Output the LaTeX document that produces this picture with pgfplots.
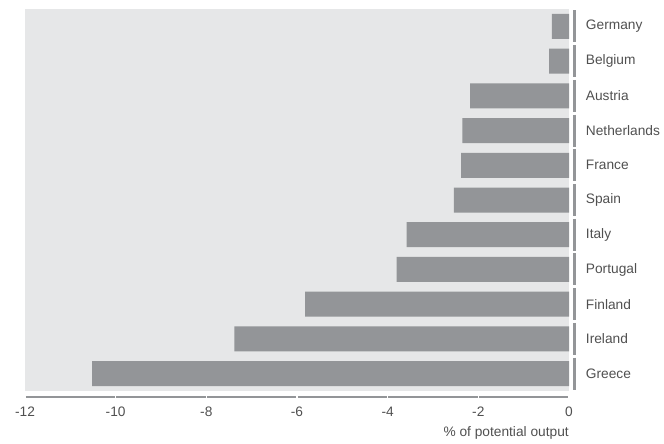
\documentclass[border=0pt]{standalone}
\usepackage{pgfplots}
\pgfplotsset{compat=1.18}
\usepackage{fontspec}
\setmainfont{Liberation Sans}
\definecolor{panel}{HTML}{E6E7E8}
\definecolor{bargray}{HTML}{939598}
\definecolor{txt}{HTML}{505050}
\begin{document}
\begin{tikzpicture}[x=0.75pt,y=0.75pt]
\path[use as bounding box] (-25,-52) rectangle (639,391);
\begin{axis}[
  at={(0,0)}, anchor=south west,
  scale only axis, width=408pt, height=286.5pt,
  xmin=-12, xmax=0, ymin=-0.5, ymax=10.5,
  y dir=reverse,
  axis background/.style={fill=panel},
  axis line style={draw=none},
  major tick length=0pt,
  xtick={-12,-10,-8,-6,-4,-2,0},
  xticklabels={-12,-10,-8,-6,-4,-2,0},
  xticklabel style={anchor=center, inner sep=0pt, yshift=-15.75pt, font=\fontsize{10.3}{12}\selectfont, text=txt},
  ytick={0,...,10},
  yticklabels={Germany,Belgium,Austria,Netherlands,France,Spain,Italy,Portugal,Finland,Ireland,Greece},
  yticklabel pos=right,
  yticklabel style={anchor=west, inner sep=0pt, xshift=12.5pt, font=\fontsize{10.3}{12}\selectfont, text=txt},
  xbar, bar width=0.72, bar shift=0pt,
  clip=false,
]
\addplot[fill=bargray, draw=none] coordinates {
 (-0.38,0) (-0.44,1) (-2.18,2) (-2.35,3) (-2.38,4) (-2.54,5)
 (-3.58,6) (-3.80,7) (-5.82,8) (-7.38,9) (-10.52,10)
};
\foreach \a in {-12,-10,-8,-6,-4,-2}{
  \edef\temp{\noexpand\draw[bargray, line width=1.5pt]
    ([xshift=0.6pt,yshift=-4.5pt]axis cs:\a,10.5) -- ([xshift=-0.6pt,yshift=-4.5pt]axis cs:\a+2,10.5);}
  \temp
}
\foreach \k in {0,...,10}{
  \edef\temp{\noexpand\draw[bargray, line width=2.2pt]
    ([xshift=4.2pt]axis cs:0,\k-0.46) -- ([xshift=4.2pt]axis cs:0,\k+0.46);}
  \temp
}
\node[anchor=base east, inner sep=0pt, font=\fontsize{10.3}{12}\selectfont, text=txt] at ([yshift=-34pt]axis cs:0,10.5) {\% of potential output};
\end{axis}
\end{tikzpicture}
\end{document}
